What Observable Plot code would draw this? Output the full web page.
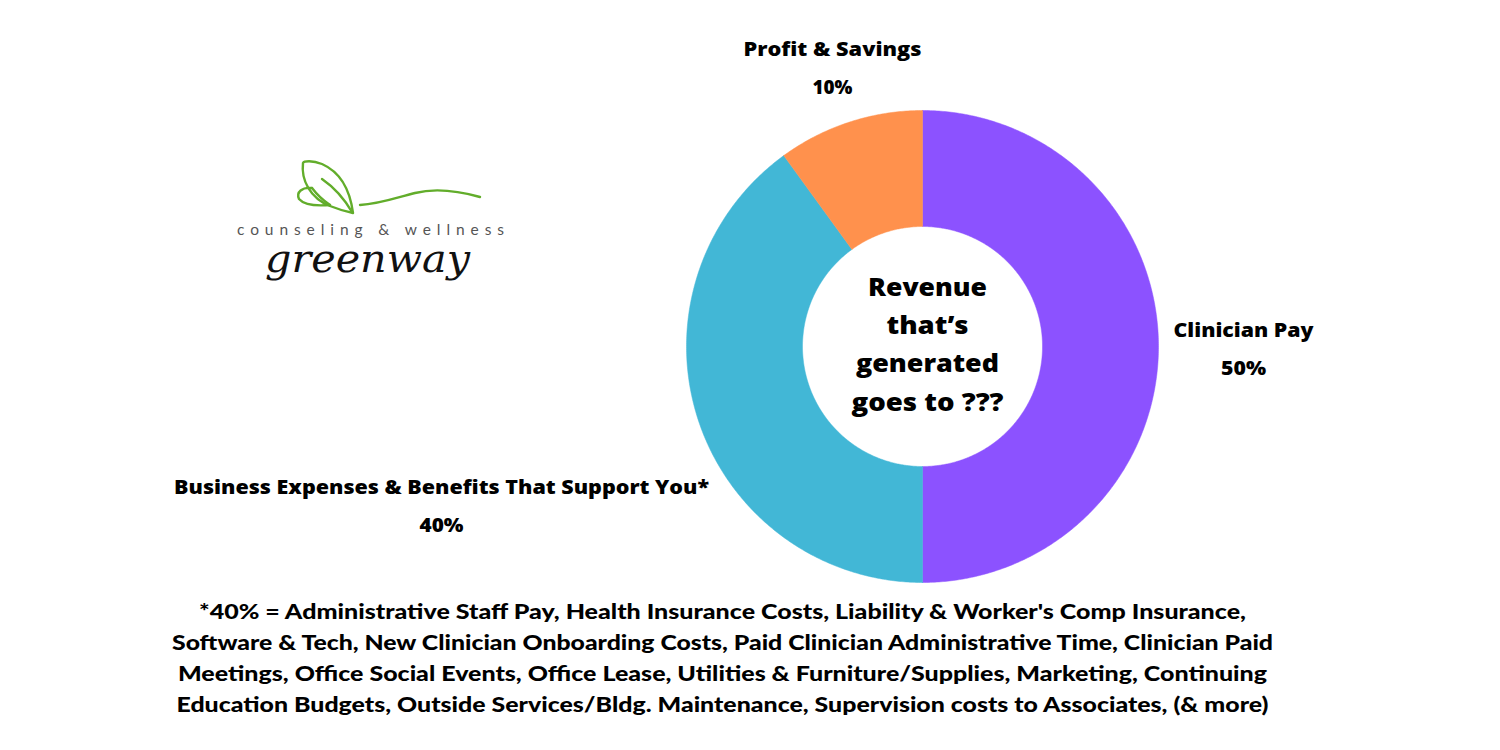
<!DOCTYPE html>
<html>
<head>
<meta charset="utf-8">
<script src="https://cdn.jsdelivr.net/npm/d3@7"></script>
<script src="https://cdn.jsdelivr.net/npm/@observablehq/plot@0.6"></script>
<style>
  html, body { margin: 0; padding: 0; background: #ffffff; }
  #wrap { position: relative; width: 1500px; height: 750px; overflow: hidden; background: #fff; }
  #logo { position: absolute; left: 0; top: 0; }
  #chart { position: absolute; left: 0; top: 0; }
</style>
</head>
<body>
<div id="wrap">
  <div id="chart"></div>
  <svg id="logo" width="600" height="320" viewBox="0 0 600 320">
    <g fill="none" stroke="#62ad2b" stroke-width="2.4" stroke-linecap="round" stroke-linejoin="round">
      <path d="M353,213 C350,190 340,172 322,164 C312,160 304,161 303,163 C301,180 310,198 330,206 C340,210 348,212 353,213 Z"/>
      <path d="M322,179 C335,188 345,200 352,212"/>
      <path d="M312,188 C302,187 296,192 299,199 C305,206 318,206 330,205"/>
      <path d="M312,188 C318,196 324,201 330,205"/>
      <path d="M360,205 C380,204 395,198 415,193 C435,188 455,190 480,197"/>
    </g>
    <text x="237" y="235" font-family="Lato, 'Open Sans', sans-serif" font-size="15.5" fill="#555" textLength="267" lengthAdjust="spacing">counseling &amp; wellness</text>
    <text x="265" y="272" font-family="'DejaVu Serif', serif" font-style="italic" font-size="40" fill="#111" textLength="205" lengthAdjust="spacingAndGlyphs">greenway</text>
  </svg>
</div>
<script>
// ---- data ----
const categories = ["Clinician Pay", "Business Expenses & Benefits That Support You*", "Profit & Savings"];
const values = [50, 40, 10];
const colors = ["#8C52FF", "#42B7D6", "#FF914D"];
const centerLines = ["Revenue", "that\u2019s", "generated", "goes to ???"];
const footnoteLines = [
  "*40% = Administrative Staff Pay, Health Insurance Costs, Liability & Worker's Comp Insurance,",
  "Software & Tech, New Clinician Onboarding Costs, Paid Clinician Administrative Time, Clinician Paid",
  "Meetings, Office Social Events, Office Lease, Utilities & Furniture/Supplies, Marketing, Continuing",
  "Education Budgets, Outside Services/Bldg. Maintenance, Supervision costs to Associates, (& more)"
];

// ---- layout (pixel-like units, centre of donut at 0,0, y up) ----
const R = 236, r = 120;
const labelLayout = {
  "Clinician Pay": [321, 3],
  "Business Expenses & Benefits That Support You*": [-481, -154],
  "Profit & Savings": [-90, 284]
};
// rendered widths of text lines in the reference (layout)
const lineWidths = {
  "Profit & Savings": 178, "10%": 40,
  "Clinician Pay": 140, "50%": 45,
  "Business Expenses & Benefits That Support You*": 535, "40%": 44,
  "Revenue": 119, "that\u2019s": 82, "generated": 143, "goes to ???": 152
};

// ---- build donut polygons from values ----
const table = categories.map((c, i) => ({category: c, value: values[i]}));
const arcs = d3.pie().sort(null).value(d => d.value)(table);
const pts = [];
for (const a of arcs) {
  const n = Math.max(2, Math.ceil((a.endAngle - a.startAngle) / (Math.PI / 360)));
  const ring = [];
  for (let k = 0; k <= n; k++) {
    const t = a.startAngle + (a.endAngle - a.startAngle) * k / n;
    ring.push({category: a.data.category, x: R * Math.sin(t), y: R * Math.cos(t)});
  }
  for (let k = n; k >= 0; k--) {
    const t = a.startAngle + (a.endAngle - a.startAngle) * k / n;
    ring.push({category: a.data.category, x: r * Math.sin(t), y: r * Math.cos(t)});
  }
  ring.push(ring[0]);
  pts.push(...ring);
}

const labels = table.map(d => ({
  category: d.category,
  text: d.category + "\n" + d.value + "%",
  x: labelLayout[d.category][0],
  y: labelLayout[d.category][1]
}));

const font = "'Open Sans', Lato, sans-serif";

const chart = Plot.plot({
  width: 1500,
  height: 750,
  margin: 0,
  style: {background: "transparent", fontFamily: font},
  x: {type: "linear", domain: [-922, 578], range: [0, 1500], axis: null},
  y: {type: "linear", domain: [-404, 346], range: [750, 0], axis: null},
  color: {domain: categories, range: colors},
  marks: [
    Plot.line(pts, {x: "x", y: "y", z: "category", fill: "category", stroke: "category", strokeWidth: 0.5, curve: "linear"}),
    Plot.text(labels, {x: "x", y: "y", text: "text", fontSize: 19, fontWeight: 800, fill: "#000", lineHeight: 2, textAnchor: "middle", className: "fitlabel"}),
    Plot.text([centerLines.join("\n")], {x: 5, y: 5.5, text: d => d, fontSize: 24, fontWeight: 800, fill: "#000", lineHeight: 1.6, textAnchor: "middle", className: "fitlabel"}),
    Plot.text([footnoteLines.join("\n")], {x: -200, y: -309.5, text: d => d, fontSize: 21.5, fontWeight: 900, fontFamily: "Lato, sans-serif", fill: "#000", lineHeight: 1.44, textAnchor: "middle", className: "footnote"})
  ]
});
document.getElementById("chart").appendChild(chart);

// fit label lines to reference widths
chart.querySelectorAll(".fitlabel tspan").forEach(ts => {
  const w = lineWidths[ts.textContent];
  if (w) { ts.setAttribute("textLength", w); ts.setAttribute("lengthAdjust", "spacingAndGlyphs"); }
});
// compress footnote lines horizontally to match reference widths
const targetWidths = [1047, 1101, 1089, 1092];
chart.querySelectorAll(".footnote tspan").forEach((ts, i) => {
  if (targetWidths[i]) {
    ts.setAttribute("textLength", targetWidths[i]);
    ts.setAttribute("lengthAdjust", "spacingAndGlyphs");
  }
});
</script>
</body>
</html>
